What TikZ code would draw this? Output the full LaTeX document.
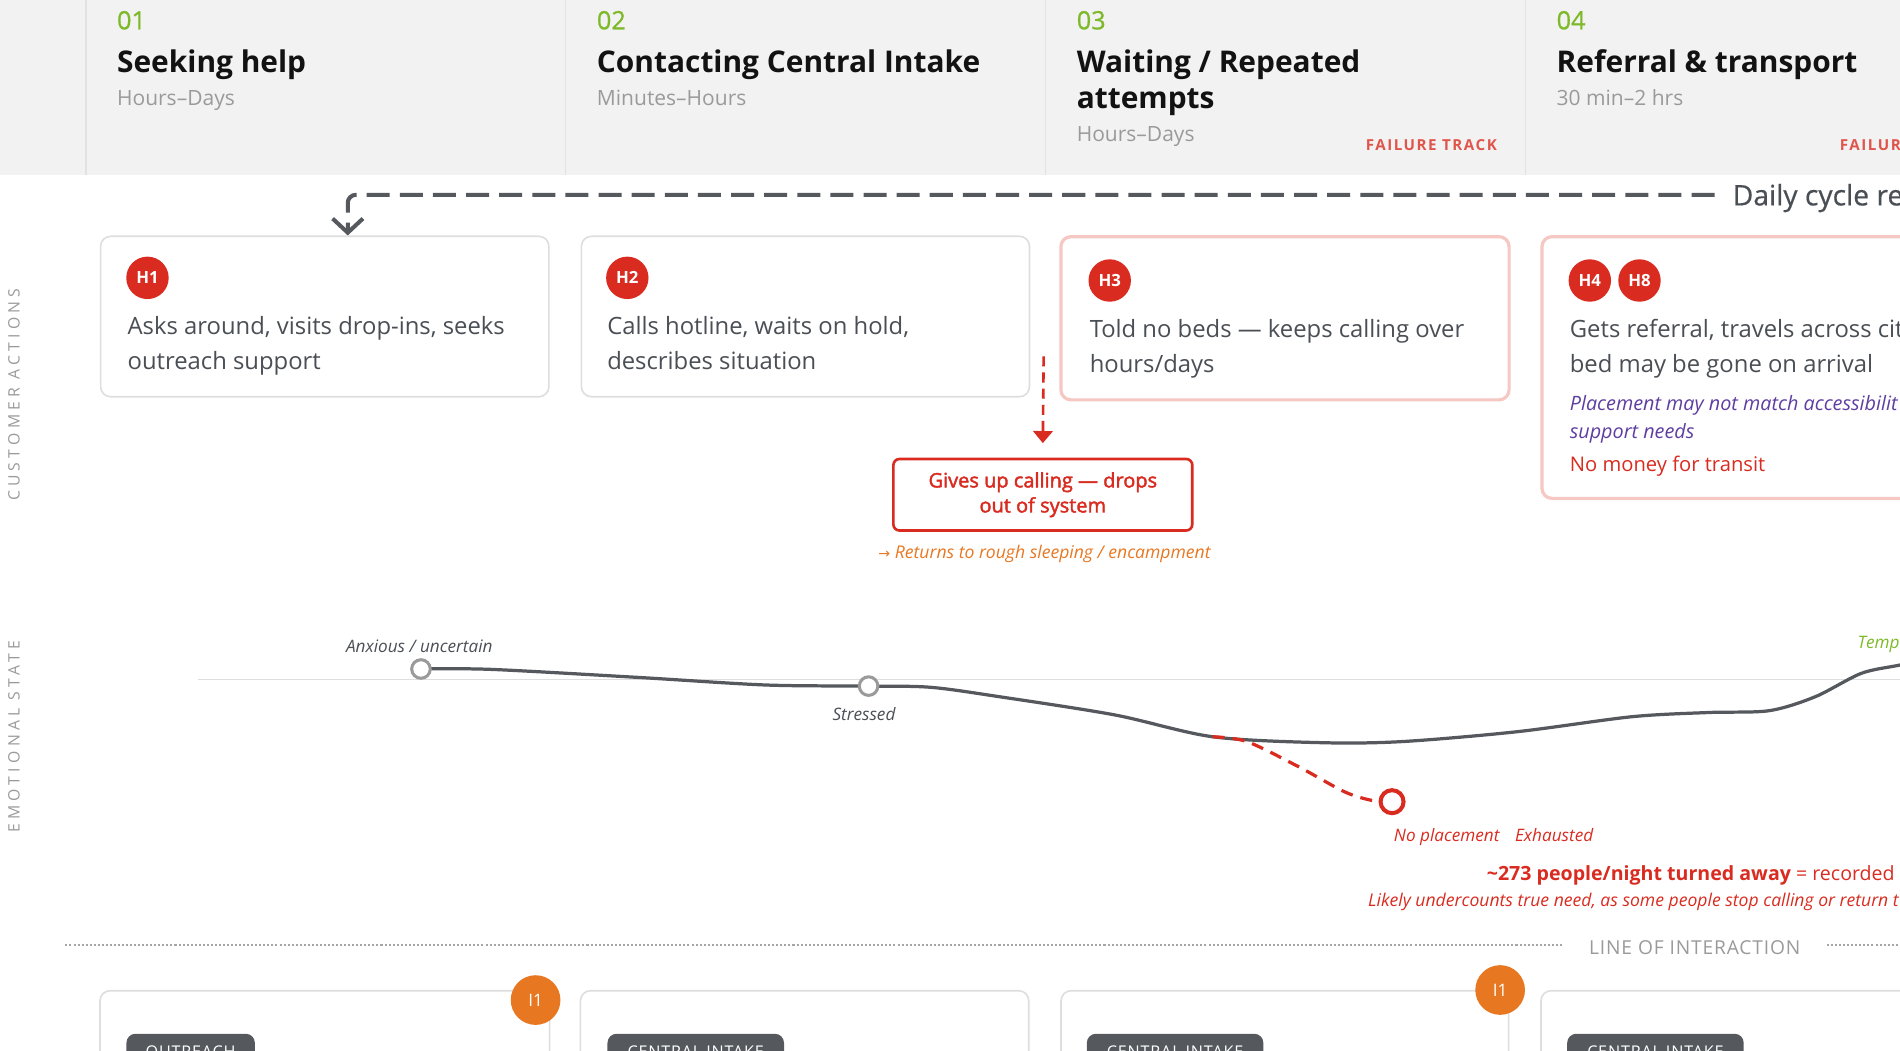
\documentclass[tikz,border=0pt]{standalone}
\usepackage{fontspec}
\setmainfont{Open Sans}
\newfontfamily\arrowfont{DejaVu Sans}
\usetikzlibrary{arrows.meta,calc,fit}

\definecolor{hdrbg}{HTML}{F2F2F2}
\definecolor{hdrrule}{HTML}{E2E2E2}
\definecolor{stepgreen}{HTML}{7DB928}
\definecolor{muted}{HTML}{9A9A9A}
\definecolor{ink}{HTML}{4A4F55}
\definecolor{hotred}{HTML}{D92B1F}
\definecolor{failred}{HTML}{E0554B}
\definecolor{pinkline}{HTML}{F5C8C4}
\definecolor{cardline}{HTML}{DEDEDE}
\definecolor{lilac}{HTML}{5E3EA1}
\definecolor{amber}{HTML}{E87722}
\definecolor{slate}{HTML}{55595E}

\begin{document}
\begin{tikzpicture}[x=0.6pt,y=-0.6pt,
			card/.style={draw=cardline,line width=0.8pt,rounded corners=5pt,fill=white,inner sep=0pt},
			hotcard/.style={card,draw=pinkline,line width=1.6pt},
			badge/.style={circle,fill=hotred,text=white,inner sep=0pt,minimum size=21pt,font=\bfseries\fontsize{8.3}{8.3}\selectfont},
			ibadge/.style={circle,fill=amber,text=white,inner sep=0pt,minimum size=24.6pt,font=\fontsize{8.5}{8.5}\selectfont},
			stepno/.style={anchor=base west,inner sep=0pt,text=stepgreen,font=\fontsize{12.5}{12.5}\selectfont\addfontfeature{FakeBold=0.8}},
			steptitle/.style={anchor=north west,inner sep=0pt,align=left,text=black!93,font=\bfseries\fontsize{14.8}{18}\selectfont},
			steptime/.style={anchor=base west,inner sep=0pt,text=muted,font=\fontsize{10.4}{10.4}\selectfont},
			failtag/.style={inner sep=0pt,text=failred,font=\bfseries\fontsize{7.5}{7.5}\selectfont\addfontfeature{LetterSpace=10}},
			body/.style={anchor=north west,inner sep=0pt,align=left,text=ink,font=\fontsize{11.8}{17.3}\selectfont},
			lane/.style={rotate=90,inner sep=0pt,text=muted,font=\fontsize{7.8}{7.8}\selectfont\addfontfeature{LetterSpace=27}},
			cyclearrow/.style={draw=slate,line width=2pt,dash pattern=on 11.4pt off 5pt,rounded corners=4pt,-{Straight Barb[length=7pt,width=15pt]}},
			dropline/.style={draw=hotred,line width=1.3pt,dash pattern=on 5pt off 3pt,-{Triangle[length=6pt,width=9.6pt]}},
			giveup/.style={draw=hotred,line width=1.3pt,rounded corners=3pt,fill=white,minimum width=148pt,minimum height=35.4pt,inner sep=0pt,align=center,text=hotred,font=\fontsize{9.9}{12.4}\selectfont\addfontfeature{FakeBold=2}},
			moodline/.style={draw=slate,line width=1.6pt},
			dropmood/.style={draw=hotred,line width=1.6pt,dash pattern=on 6pt off 4pt},
			mood/.style={circle,draw=muted,fill=white,line width=1.5pt,minimum size=9.2pt,inner sep=0pt},
			moodtxt/.style={anchor=base,inner sep=0pt,text=ink,font=\itshape\fontsize{8.5}{8.5}\selectfont},
			interline/.style={draw=black!35,line width=1.2pt,dash pattern=on 1pt off 1pt},
			pill/.style={anchor=north west,fill=slate,text=white,rounded corners=4.5pt,minimum height=18pt,inner sep=0pt,font=\fontsize{8}{8}\selectfont\addfontfeature{LetterSpace=5}}]
			\useasboundingbox (0,0) rectangle (1568,867);
			
			% stage header
			\fill[hdrbg] (0,0) rectangle (1568,144.4);
			\foreach \x in {71,467,863,1259}
			{\draw[hdrrule,line width=0.6pt] (\x,0) -- (\x,144.4);}
			\node[stepno] (n1) at (96.3,24.2) {01};
			\node[steptitle] (t1) at (96.3,40.5) {Seeking help};
			\node[steptime] (d1) at (96.3,86.7) {Hours–Days};
			\node[stepno] (n2) at (492.3,24.2) {02};
			\node[steptitle] (t2) at (492.3,40.5) {Contacting Central Intake};
			\node[steptime] (d2) at (492.3,86.7) {Minutes–Hours};
			\node[stepno] (n3) at (888.3,24.2) {03};
			\node[steptitle] (t3) at (888.3,40.5) {Waiting / Repeated\\attempts};
			\node[steptime] (d3) at (888.3,117) {Hours–Days};
			\node[failtag,anchor=base east] (f3) at (1235.6,123.8) {FAILURE TRACK};
			\node[stepno] (n4) at (1284.3,24.2) {04};
			\node[steptitle] (t4) at (1284.3,40.5) {Referral \& transport};
			\node[steptime] (d4) at (1284.3,86.7) {30 min–2 hrs};
			\node[failtag,anchor=base west] (f4) at (1518,123.8) {FAILUR};
			
			\node[lane] (lanecust) at (11.6,325.7) {CUSTOMER ACTIONS};
			\node[lane] (laneemo) at (11.6,607.8) {EMOTIONAL STATE};
			
			% customer actions
			\node[card,fit={(83,195)(453,327.4)}] (card1) {};
			\node[card,fit={(479.8,195)(849.6,327.4)}] (card2) {};
			\node[hotcard,fit={(875.5,195.3)(1245.4,330)}] (card3) {};
			\node[hotcard,fit={(1272.5,195.3)(1700,411.3)}] (card4) {};
			\node[badge] (h1) at (121.7,229.3) {H1};
			\node[badge] (h2) at (517.7,229.3) {H2};
			\node[badge] (h3) at (915.8,231.5) {H3};
			\node[badge] (h4) at (1312,231.5) {H4};
			\node[badge] (h8) at (1353,231.5) {H8};
			\node[body] (a1) at (105,260.7) {Asks around, visits drop-ins, seeks\\outreach support};
			\node[body] (a2) at (500.8,260.7) {Calls hotline, waits on hold,\\describes situation};
			\node[body] (a3) at (899,262.9) {Told no beds — keeps calling over\\hours/days};
			\node[body] (a4) at (1295.2,262.9) {Gets referral, travels across cit\\bed may be gone on arrival};
			\node[body,text=lilac,font=\itshape\fontsize{9.8}{13.7}\selectfont] (a4note) at (1295.2,325.9) {Placement may not match accessibilit\\support needs};
			\node[anchor=base west,inner sep=0pt,text=hotred,font=\fontsize{10}{10}\selectfont] (a4cost) at (1295.2,389.3) {No money for transit};
			
			\node[anchor=base west,inner sep=0pt,text=ink,font=\fontsize{14}{14}\selectfont\addfontfeature{FakeBold=0.6}] (cycle) at (1429.6,169.5) {Daily cycle re};
			\draw[cyclearrow] ([xshift=-8.8pt,yshift=1.6pt]cycle.west) -| ([xshift=11.4pt]card1.north);
			
			\node[giveup] (giveup) at (860.6,408.3) {Gives up calling — drops\\out of system};
			\draw[dropline] ($(card2.south east)+(11,-34)$) -- ($(giveup.north)+(0,-12)$);
			\node[anchor=base,inner sep=0pt,text=amber,font=\itshape\fontsize{8.7}{8.7}\selectfont] (rough) at (862,461.3) {{\arrowfont\upshape\fontsize{7}{7}\selectfont →} Returns to rough sleeping / encampment};
			
			% emotional state
			\draw[cardline,line width=0.6pt] (163,560.6) -- (1568,560.6);
			\coordinate (m1) at (347.4,552.1);
			\coordinate (m2) at (716.8,566.2);
			\coordinate (fork) at (1000.6,608);
			\coordinate (m3) at (1148.8,661.6);
			\draw[moodline] plot[smooth] coordinates {(m1) (405,552.4) (526,559) (632,565.3) (m2) (768,567.2) (825,575) (920,590) (fork) (1090.6,612.9) (1157,612) (1251.6,603.9) (1346.5,591.5) (1410,588) (1460,586.5) (1498,575) (1536,555.7) (1568,548.8) (1610,540)};
			\draw[dropmood] plot[smooth] coordinates {(fork) (1029,612) (1071.6,632.7) (1109.5,653.4) (1132,660.5) (m3)};
			\node[mood] (mood1) at (m1) {};
			\node[mood] (mood2) at (m2) {};
			\node[mood,draw=hotred,line width=2pt,minimum size=11.4pt] (mood3) at (m3) {};
			\node[moodtxt] (l1) at (346,538.6) {Anxious / uncertain};
			\node[moodtxt] (l2) at (713,594.8) {Stressed};
			\node[moodtxt,anchor=base west,text=hotred] (l3) at (1150,694.6) {No placement};
			\node[moodtxt,anchor=base west,text=hotred] (l4) at (1250,694.6) {Exhausted};
			\node[moodtxt,anchor=base west,text=stepgreen] (l5) at (1532.6,535) {Temp};
			
			\node[anchor=base west,inner sep=0pt,text=hotred,font=\fontsize{9.7}{9.7}\selectfont] (count) at (1226.7,726.8) {\textbf{\textasciitilde 273 people/night turned away} = recorded};
			\node[anchor=base west,inner sep=0pt,text=hotred,font=\itshape\fontsize{8.7}{8.7}\selectfont] (undercount) at (1128.8,748.3) {Likely undercounts true need, as some people stop calling or return t};
			
			% line of interaction
			\coordinate (loiL) at (54,780);
			\coordinate (loiR) at (1600,780);
			\node[inner xsep=13pt,inner ysep=0pt,text=muted,font=\fontsize{9.5}{9.5}\selectfont\addfontfeature{LetterSpace=4.5}] (loi) at (1398.6,781.8) {LINE OF INTERACTION};
			\draw[interline] (loiL) -- (loiL -| loi.west);
			\draw[interline] (loi.east |- loiR) -- (loiR);
			
			% frontstage
			\node[card,fit={(82.5,817.6)(453.6,950)}] (svc1) {};
			\node[card,fit={(479,817.6)(849,950)}] (svc2) {};
			\node[card,fit={(875.6,817.6)(1245,950)}] (svc3) {};
			\node[card,fit={(1271.7,817.6)(1700,950)}] (svc4) {};
			\node[pill,minimum width=63.6pt] (p1) at (104,852.8) {OUTREACH};
			\node[pill,minimum width=87.4pt] (p2) at (501,852.8) {CENTRAL INTAKE};
			\node[pill,minimum width=87.4pt] (p3) at (896.6,852.8) {CENTRAL INTAKE};
			\node[pill,minimum width=87.4pt] (p4) at (1293,852.8) {CENTRAL INTAKE};
			\node[ibadge] (i1a) at (442,825.3) {I1};
			\node[ibadge] (i1b) at (1238,817) {I1};
		\end{tikzpicture}
\end{document}
